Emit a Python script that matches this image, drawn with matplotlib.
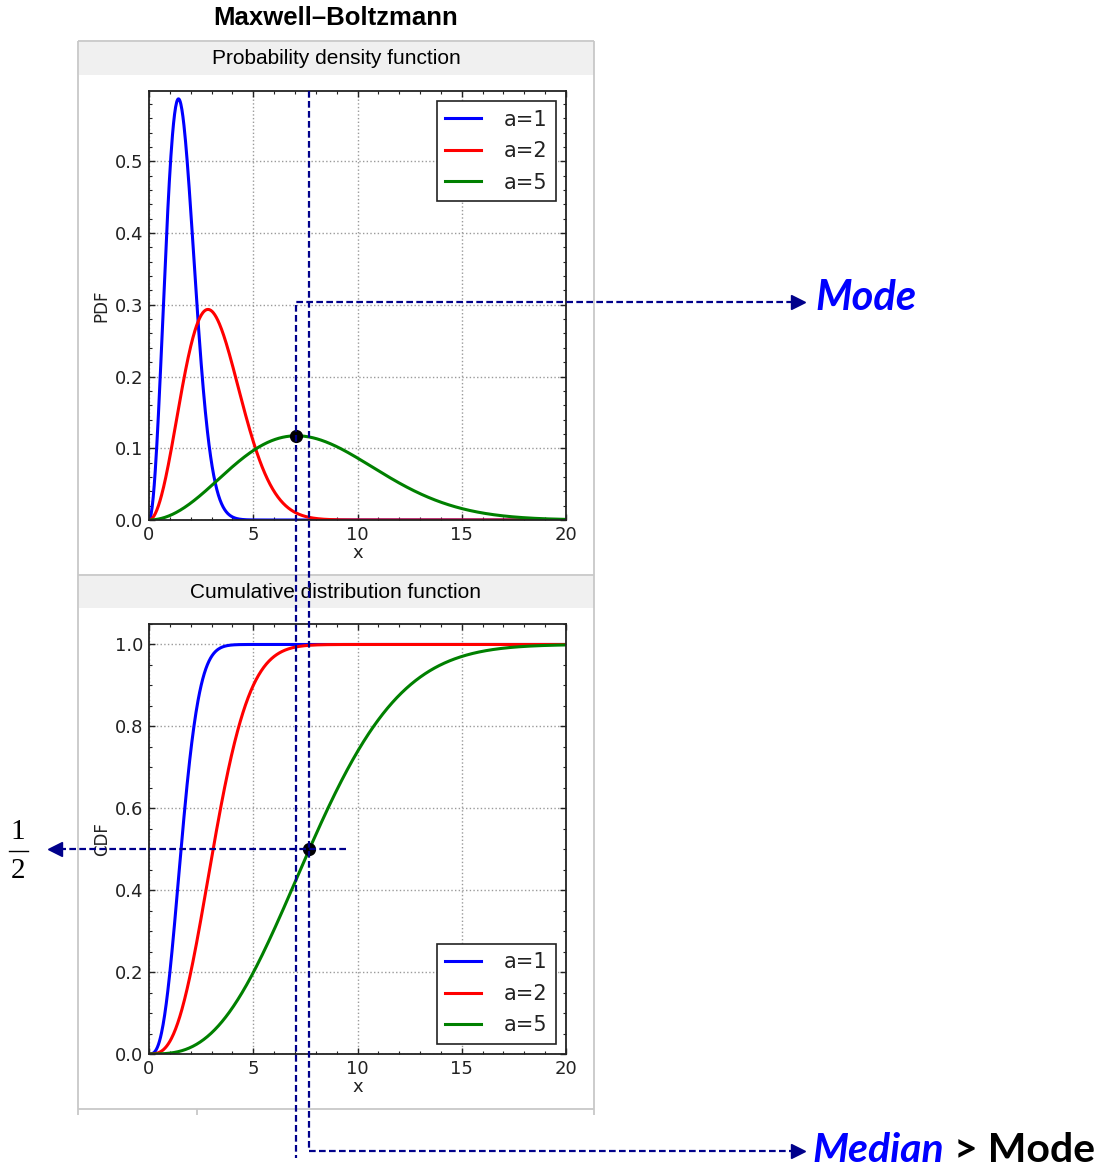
import math
import numpy as np
import matplotlib
matplotlib.use("Agg")
import matplotlib.pyplot as plt
from matplotlib.ticker import AutoMinorLocator
from matplotlib.patches import Rectangle

# ---------------- data ----------------
scales = [1, 2, 5]
series_labels = ["a=1", "a=2", "a=5"]
series_colors = ["#0000ff", "#ff0000", "#008000"]
x_min, x_max = 0, 20
x_ticks = [0, 5, 10, 15, 20]
pdf_ticks = [0.0, 0.1, 0.2, 0.3, 0.4, 0.5]
cdf_ticks = [0.0, 0.2, 0.4, 0.6, 0.8, 1.0]
mode_x = 7.07       # mode of a=5 curve
mode_pdf = 0.117
median_x = 7.69     # median of a=5 curve
half = 0.5
half_line_end_x = 9.45

x = np.linspace(x_min, x_max, 800)
erf = np.vectorize(math.erf)


def maxwell_pdf(x, a):
    return np.sqrt(2 / np.pi) * x ** 2 * np.exp(-x ** 2 / (2 * a * a)) / a ** 3


def maxwell_cdf(x, a):
    return erf(x / (np.sqrt(2) * a)) - np.sqrt(2 / np.pi) * x * np.exp(-x ** 2 / (2 * a * a)) / a


# ---------------- figure ----------------
W, H = 1096, 1169
fig = plt.figure(figsize=(W / 100, H / 100), dpi=100)
fig.patch.set_facecolor("white")


def px_rect(x0, y0, x1, y1):
    return [x0 / W, 1 - y1 / H, (x1 - x0) / W, (y1 - y0) / H]


# background panels
bg = fig.add_axes([0, 0, 1, 1], zorder=-5)
bg.set_xlim(0, W)
bg.set_ylim(H, 0)
bg.axis("off")
band = "#f0f0f0"
border = "#c8c8c8"
bg.add_patch(Rectangle((79, 42), 515, 33, facecolor=band, edgecolor="none"))
bg.add_patch(Rectangle((79, 576), 515, 32, facecolor=band, edgecolor="none"))
bkw = dict(color=border, lw=1.3, solid_capstyle="butt")
bg.plot([78, 594], [41, 41], **bkw)
bg.plot([78, 594], [575, 575], **bkw)
bg.plot([78, 594], [1109, 1109], **bkw)
bg.plot([78, 78], [41, 1115], **bkw)
bg.plot([594, 594], [41, 1115], **bkw)
bg.plot([197, 197], [1109, 1115], **bkw)

fig.text(336 / W, 1 - 18 / H, "Maxwell–Boltzmann", ha="center", va="center",
         fontsize=18.5, fontweight="bold", family="Liberation Sans")
fig.text(336 / W, 1 - 58 / H, "Probability density function", ha="center", va="center",
         fontsize=15, family="Liberation Sans")
fig.text(336 / W, 1 - 592 / H, "Cumulative distribution function", ha="center", va="center",
         fontsize=15, family="Liberation Sans")

ax1 = fig.add_axes(px_rect(149, 91, 566, 520))
ax2 = fig.add_axes(px_rect(149, 624, 566, 1054))


def style(ax, yticks, ylab):
    ax.set_xlim(x_min, x_max)
    ax.set_xticks(x_ticks)
    ax.set_yticks(yticks)
    ax.xaxis.set_minor_locator(AutoMinorLocator())
    ax.yaxis.set_minor_locator(AutoMinorLocator())
    ax.tick_params(which="both", direction="in", top=True, right=True, colors="#222222",
                   labelcolor="#222222", labelsize=13, pad=4)
    ax.tick_params(which="major", length=4, width=1)
    ax.tick_params(which="minor", length=2, width=0.8)
    for s in ax.spines.values():
        s.set_linewidth(1.3)
        s.set_color("#222222")
    ax.grid(True, which="major", linestyle=":", color="#9a9a9a", lw=1)
    ax.set_xlabel("x", fontsize=13, labelpad=0, color="#222222")
    ax.set_ylabel(ylab, fontsize=12, labelpad=3, color="#222222")
    ax.set_axisbelow(True)


for a, lab, col in zip(scales, series_labels, series_colors):
    ax1.plot(x, maxwell_pdf(x, a), color=col, lw=2.2, label=lab)
    ax2.plot(x, maxwell_cdf(x, a), color=col, lw=2.2, label=lab)

ax1.set_ylim(0, 0.598)
ax2.set_ylim(0, 1.05)
style(ax1, pdf_ticks, "PDF")
style(ax2, cdf_ticks, "CDF")
ax1.set_yticklabels([f"{t:.1f}" for t in pdf_ticks])
ax2.set_yticklabels([f"{t:.1f}" for t in cdf_ticks])

leg_kw = dict(fontsize=15, frameon=True, fancybox=False, framealpha=1, edgecolor="#222222",
              handlelength=1.7, handletextpad=1.1, labelspacing=0.55, borderpad=0.4,
              borderaxespad=0.5)
l1 = ax1.legend(loc="upper right", **leg_kw)
l2 = ax2.legend(loc="lower right", **leg_kw)
for l in (l1, l2):
    l.get_frame().set_linewidth(1.2)
    for t in l.get_texts():
        t.set_color("#222222")

ax1.plot([mode_x], [mode_pdf], "o", color="black", ms=8.5, zorder=6)
ax2.plot([median_x], [half], "o", color="black", ms=8.5, zorder=6)

# ---------------- annotation overlay ----------------
ov = fig.add_axes([0, 0, 1, 1], zorder=5)
ov.set_xlim(0, W)
ov.set_ylim(H, 0)
ov.axis("off")
ov.patch.set_alpha(0)


def to_px(ax, xd, yd):
    disp = ax.transData.transform((xd, yd))
    return ov.transData.inverted().transform(disp)


navy = "#00008B"
dkw = dict(color=navy, lw=1.6, dashes=(3, 1.5))

mpx = to_px(ax1, mode_x, 0)[0]
dpx = to_px(ax1, median_x, 0)[0]
top_px = to_px(ax1, 0, ax1.get_ylim()[1])[1]

ov.plot([793, mpx, mpx], [302, 302, 1158], **dkw)
ov.plot([dpx, dpx, 793], [top_px, 1151, 1151], **dkw)
ov.plot([798], [302], marker=">", ms=10, color=navy, lw=0)
ov.plot([798], [1151], marker=">", ms=10, color=navy, lw=0)

half_y = to_px(ax2, 0, half)[1]
end_px = to_px(ax2, half_line_end_x, 0)[0]
ov.plot([end_px, 60], [half_y, half_y], **dkw)
ov.plot([55], [half_y], marker="<", ms=10, color=navy, lw=0)

ov.text(815, 298, "Mode", ha="left", va="center", fontsize=30, fontweight="bold",
        style="italic", color="#0000ff", family="Lato")
t_med = ov.text(812, 1151, "Median", ha="left", va="center", fontsize=29.5, fontweight="bold",
                style="italic", color="#0000ff", family="Lato")
ov.annotate(" > Mode", xy=(1, 0.5), xycoords=t_med, ha="left", va="center", fontsize=29.5,
            fontweight="bold", color="black", family="Lato")

ov.text(18, 832, "1", ha="center", va="center", fontsize=21, family="Liberation Serif")
ov.text(18, 871, "2", ha="center", va="center", fontsize=21, family="Liberation Serif")
ov.plot([9, 28], [851, 851], color="black", lw=1)

fig.savefig("out.png", dpi=100)
